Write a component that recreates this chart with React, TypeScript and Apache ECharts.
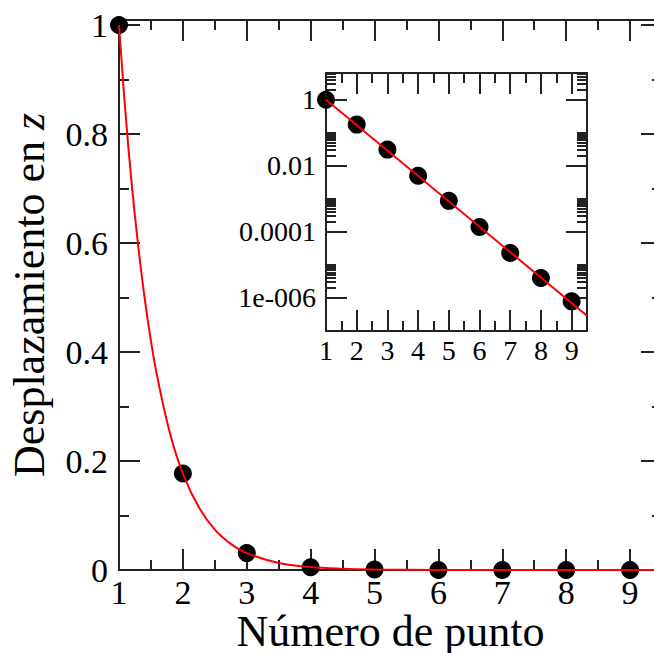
import React, { useEffect, useRef } from 'react';
import * as echarts from 'echarts';

// ---- data ----
const pointX = [1, 2, 3, 4, 5, 6, 7, 8, 9];
const pointY = [1, 0.177, 0.031, 0.005, 0.00087, 0.00014, 0.000023, 0.000004, 0.00000079];

// red fit curve, sampled off the main panel
const fitX = [1, 1.1, 1.2, 1.3, 1.4, 1.5, 1.6, 1.8, 2, 2.25, 2.5, 2.75, 3, 3.5, 4, 4.5, 5, 6, 7, 9.5];
const fitY = [1, 0.841, 0.707, 0.595, 0.5, 0.42, 0.354, 0.25, 0.177, 0.115, 0.074, 0.048, 0.031, 0.013, 0.0055, 0.0023, 0.001, 0.00018, 0.00003, 0];

// red fit line in the inset (straight in log scale)
const insetFitX = [1, 9.5];
const insetFitY = [1, 2.9e-7];

// ticks
const mainXMajor = [1, 2, 3, 4, 5, 6, 7, 8, 9];
const mainXMinor = [1.5, 2.5, 3.5, 4.5, 5.5, 6.5, 7.5, 8.5];
const mainXLabels = ['1', '2', '3', '4', '5', '6', '7', '8', '9'];
const mainYMajor = [0, 0.2, 0.4, 0.6, 0.8, 1];
const mainYMinor = [0.1, 0.3, 0.5, 0.7, 0.9];
const mainYLabels = ['0', '0.2', '0.4', '0.6', '0.8', '1'];

const insetXMajor = [1, 2, 3, 4, 5, 6, 7, 8, 9];
const insetXMinor = [1.5, 2.5, 3.5, 4.5, 5.5, 6.5, 7.5, 8.5];
const insetXLabels = ['1', '2', '3', '4', '5', '6', '7', '8', '9'];
const insetYMajorExp = [0, -2, -4, -6];
const insetYLabels = ['1', '0.01', '0.0001', '1e-006'];
const insetMinorMultipliers = [2, 3, 4, 5, 6, 7, 8, 9, 10];
const insetMinorDecades = [0, -2, -4, -6, -8];

const FONT = "'Liberation Serif', 'Times New Roman', Times, serif";
const AX = '#222';
const LW = 2;

const INSET_YMIN = -7;
const INSET_YMAX = 0.81;

function labelFor(ticks: number[], labels: string[]) {
  return (v: number) => {
    let best = 0;
    for (let i = 1; i < ticks.length; i++) {
      if (Math.abs(ticks[i] - v) < Math.abs(ticks[best] - v)) best = i;
    }
    return labels[best];
  };
}

function makeAxis(
  grid: number,
  position: string,
  min: number,
  max: number,
  ticks: number[],
  len: number,
  showLine: boolean,
  label?: { labels: string[]; size: number; margin: number; lineHeight?: number }
): any {
  return {
    type: 'value',
    gridIndex: grid,
    position,
    min,
    max,
    nameMoveOverlap: false,
    axisLine: { show: showLine, onZero: false, lineStyle: { color: AX, width: LW } },
    axisTick: {
      show: true,
      inside: true,
      length: len,
      customValues: ticks,
      lineStyle: { color: AX, width: LW },
    },
    axisLabel: label
      ? {
          show: true,
          customValues: ticks,
          formatter: labelFor(ticks, label.labels),
          fontFamily: FONT,
          fontSize: label.size,
          lineHeight: label.lineHeight,
          color: '#000',
          margin: label.margin,
        }
      : { show: false },
    splitLine: { show: false },
    minorTick: { show: false },
  };
}

export default function App() {
  const ref = useRef<HTMLDivElement>(null);

  useEffect(() => {
    document.body.style.margin = '0';
    if (!ref.current) return;
    const chart = echarts.init(ref.current, undefined, { renderer: 'svg' });

    const insetMinor: number[] = [];
    insetMinorDecades.forEach((e) => {
      insetMinorMultipliers.forEach((k) => {
        const v = e + Math.log10(k);
        if (v > INSET_YMIN && v < INSET_YMAX) insetMinor.push(v);
      });
    });

    const xAxis = [
      makeAxis(0, 'bottom', 1, 9.5, mainXMajor, 21, true, { labels: mainXLabels, size: 34, margin: 10, lineHeight: 24 }),
      makeAxis(0, 'bottom', 1, 9.5, mainXMinor, 10, false),
      makeAxis(0, 'top', 1, 9.5, mainXMajor, 21, true),
      makeAxis(0, 'top', 1, 9.5, mainXMinor, 10, false),
      makeAxis(1, 'bottom', 1, 9.5, insetXMajor, 21, true, { labels: insetXLabels, size: 28, margin: 5 }),
      makeAxis(1, 'bottom', 1, 9.5, insetXMinor, 10, false),
      makeAxis(1, 'top', 1, 9.5, insetXMajor, 21, true),
      makeAxis(1, 'top', 1, 9.5, insetXMinor, 10, false),
    ];
    xAxis[0].name = 'Número de punto';
    xAxis[0].nameLocation = 'middle';
    xAxis[0].nameGap = 44;
    xAxis[0].nameTextStyle = { fontFamily: FONT, fontSize: 44, lineHeight: 34, color: '#000' };

    const yAxis = [
      makeAxis(0, 'left', 0, 1.0092, mainYMajor, 21, true, { labels: mainYLabels, size: 34, margin: 11 }),
      makeAxis(0, 'left', 0, 1.0092, mainYMinor, 10, false),
      makeAxis(0, 'right', 0, 1.0092, mainYMajor, 21, true),
      makeAxis(0, 'right', 0, 1.0092, mainYMinor, 10, false),
      makeAxis(1, 'left', INSET_YMIN, INSET_YMAX, insetYMajorExp, 21, true, { labels: insetYLabels, size: 28, margin: 10 }),
      makeAxis(1, 'left', INSET_YMIN, INSET_YMAX, insetMinor, 10, false),
      makeAxis(1, 'right', INSET_YMIN, INSET_YMAX, insetYMajorExp, 21, true),
      makeAxis(1, 'right', INSET_YMIN, INSET_YMAX, insetMinor, 10, false),
    ];
    yAxis[0].name = 'Desplazamiento en {i|z}';
    yAxis[0].nameLocation = 'middle';
    yAxis[0].nameGap = 68;
    yAxis[0].nameTextStyle = {
      fontFamily: FONT,
      fontSize: 44,
      color: '#000',
      rich: { i: { fontFamily: FONT, fontSize: 44, fontStyle: 'italic', color: '#000' } },
    };

    chart.setOption({
      animation: false,
      backgroundColor: '#fff',
      grid: [
        { left: 119, top: 20, width: 543, height: 550, outerBoundsMode: 'none', containLabel: false },
        {
          left: 326, top: 73, width: 261, height: 258,
          show: true, backgroundColor: '#fff', borderWidth: 0,
          outerBoundsMode: 'none', containLabel: false,
        },
      ],
      xAxis,
      yAxis,
      series: [
        {
          type: 'scatter',
          xAxisIndex: 0,
          yAxisIndex: 0,
          data: pointX.map((x, i) => [x, pointY[i]]),
          symbol: 'circle',
          symbolSize: 18,
          itemStyle: { color: '#000', opacity: 1 },
          clip: false,
          z: 2,
        },
        {
          type: 'line',
          xAxisIndex: 0,
          yAxisIndex: 0,
          data: fitX.map((x, i) => [x, fitY[i]]),
          smooth: 0.4,
          symbol: 'none',
          lineStyle: { color: '#ff0000', width: 2 },
          z: 3,
        },
        {
          type: 'scatter',
          xAxisIndex: 4,
          yAxisIndex: 4,
          data: pointX.map((x, i) => [x, Math.log10(pointY[i])]),
          symbol: 'circle',
          symbolSize: 18,
          itemStyle: { color: '#000', opacity: 1 },
          clip: false,
          z: 4,
        },
        {
          type: 'line',
          xAxisIndex: 4,
          yAxisIndex: 4,
          data: insetFitX.map((x, i) => [x, Math.log10(insetFitY[i])]),
          symbol: 'none',
          lineStyle: { color: '#ff0000', width: 2 },
          z: 5,
        },
      ],
    });

    return () => chart.dispose();
  }, []);

  return <div ref={ref} style={{ width: 654, height: 653 }} />;
}
